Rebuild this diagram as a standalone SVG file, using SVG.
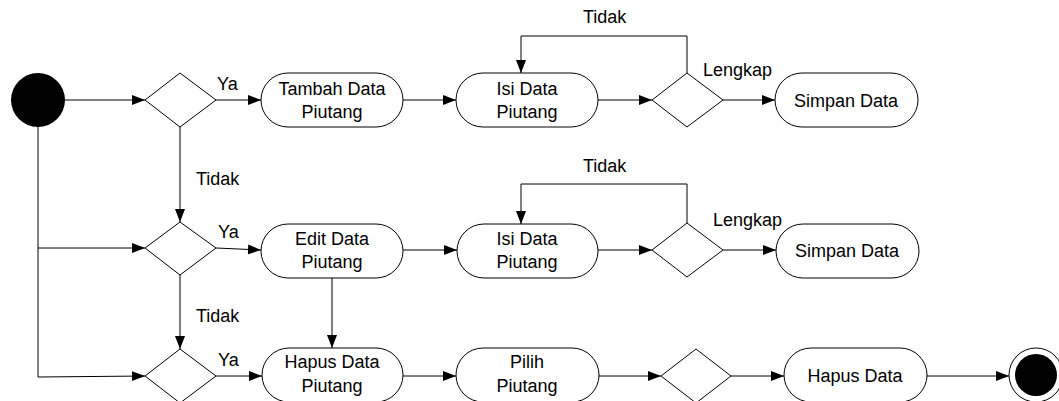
<svg xmlns="http://www.w3.org/2000/svg" width="1059" height="401" viewBox="0 0 1059 401">
<style>
.act{fill:#fff;stroke:#000;stroke-width:1}
.dec{fill:#fff;stroke:#000;stroke-width:1}
.ln{fill:none;stroke:#000;stroke-width:1}
text{font-family:"Liberation Sans",Arial,sans-serif;font-size:18px;fill:#000}
.c{text-anchor:middle}
</style>
<defs>
<marker id="ah" markerUnits="userSpaceOnUse" markerWidth="14" markerHeight="12" refX="13" refY="5" orient="auto">
<path d="M0,0 L13,5 L0,10 z" fill="#000"/>
</marker>
</defs>
<rect width="1059" height="401" fill="#fff"/>
<g id="connectors">
<path class="ln" d="M65,100 H145" marker-end="url(#ah)"/>
<path class="ln" d="M216,100 H261" marker-end="url(#ah)"/>
<path class="ln" d="M403,100 H456" marker-end="url(#ah)"/>
<path class="ln" d="M598,100 H652" marker-end="url(#ah)"/>
<path class="ln" d="M723,100 H775" marker-end="url(#ah)"/>
<path class="ln" d="M687,73 V36 H521 V73" marker-end="url(#ah)"/>
<path class="ln" d="M180,127 V222" marker-end="url(#ah)"/>
<path class="ln" d="M38,127 V377 L145,376" marker-end="url(#ah)"/>
<path class="ln" d="M38,248 H145" marker-end="url(#ah)"/>
<path class="ln" d="M216,248 L261,250" marker-end="url(#ah)"/>
<path class="ln" d="M403,250 H457" marker-end="url(#ah)"/>
<path class="ln" d="M598,250 H652" marker-end="url(#ah)"/>
<path class="ln" d="M723,250 H776" marker-end="url(#ah)"/>
<path class="ln" d="M687,223 V184 H521 V224" marker-end="url(#ah)"/>
<path class="ln" d="M180,275 V349" marker-end="url(#ah)"/>
<path class="ln" d="M332,277 V348" marker-end="url(#ah)"/>
<path class="ln" d="M216,376 H262" marker-end="url(#ah)"/>
<path class="ln" d="M403,376 H456" marker-end="url(#ah)"/>
<path class="ln" d="M599,376 H661" marker-end="url(#ah)"/>
<path class="ln" d="M731,376 H784" marker-end="url(#ah)"/>
<path class="ln" d="M927,376 H1009" marker-end="url(#ah)"/>
<text x="217" y="90">Ya</text>
<text x="218" y="238">Ya</text>
<text x="218" y="366">Ya</text>
<text x="196" y="185">Tidak</text>
<text x="196" y="322">Tidak</text>
<text x="583" y="23">Tidak</text>
<text x="583" y="172">Tidak</text>
<text x="703" y="76">Lengkap</text>
<text x="713" y="226">Lengkap</text>
</g>
<g id="start"><circle cx="38" cy="100" r="27" fill="#000"/></g>
<g id="d1"><path class="dec" d="M180,73 L216,100 L180,127 L145,100 Z"/></g>
<g id="tambah"><rect class="act" x="261" y="73" width="142" height="54" rx="27"/><text class="c" x="332" y="95">Tambah Data</text><text class="c" x="332" y="118">Piutang</text></g>
<g id="isi1"><rect class="act" x="456" y="73" width="142" height="54" rx="27"/><text class="c" x="527" y="95">Isi Data</text><text class="c" x="527" y="118">Piutang</text></g>
<g id="d1b"><path class="dec" d="M687,73 L723,100 L687,127 L652,100 Z"/></g>
<g id="simpan1"><rect class="act" x="775" y="73" width="143" height="54" rx="27"/><text class="c" x="846" y="107">Simpan Data</text></g>
<g id="d2"><path class="dec" d="M180,222 L216,248 L180,275 L145,248 Z"/></g>
<g id="edit"><rect class="act" x="261" y="224" width="142" height="54" rx="27"/><text class="c" x="332" y="245">Edit Data</text><text class="c" x="332" y="268">Piutang</text></g>
<g id="isi2"><rect class="act" x="457" y="224" width="141" height="54" rx="27"/><text class="c" x="527" y="245">Isi Data</text><text class="c" x="527" y="268">Piutang</text></g>
<g id="d2b"><path class="dec" d="M687,223 L723,250 L687,277 L652,250 Z"/></g>
<g id="simpan2"><rect class="act" x="776" y="224" width="143" height="54" rx="27"/><text class="c" x="847" y="257">Simpan Data</text></g>
<g id="d3"><path class="dec" d="M180,349 L216,376 L180,403 L145,376 Z"/></g>
<g id="hapus"><rect class="act" x="262" y="348" width="141" height="54" rx="27"/><text class="c" x="332" y="368">Hapus Data</text><text class="c" x="332" y="392">Piutang</text></g>
<g id="pilih"><rect class="act" x="456" y="348" width="143" height="54" rx="27"/><text class="c" x="527" y="368">Pilih</text><text class="c" x="527" y="392">Piutang</text></g>
<g id="d3b"><path class="dec" d="M696,349 L731,376 L696,403 L661,376 Z"/></g>
<g id="hapusdata"><rect class="act" x="784" y="348" width="143" height="54" rx="27"/><text class="c" x="855" y="382">Hapus Data</text></g>
<g id="end"><circle cx="1036" cy="375" r="27" fill="#fff" stroke="#000" stroke-width="1"/><circle cx="1036" cy="375" r="21" fill="#000"/></g>
</svg>
